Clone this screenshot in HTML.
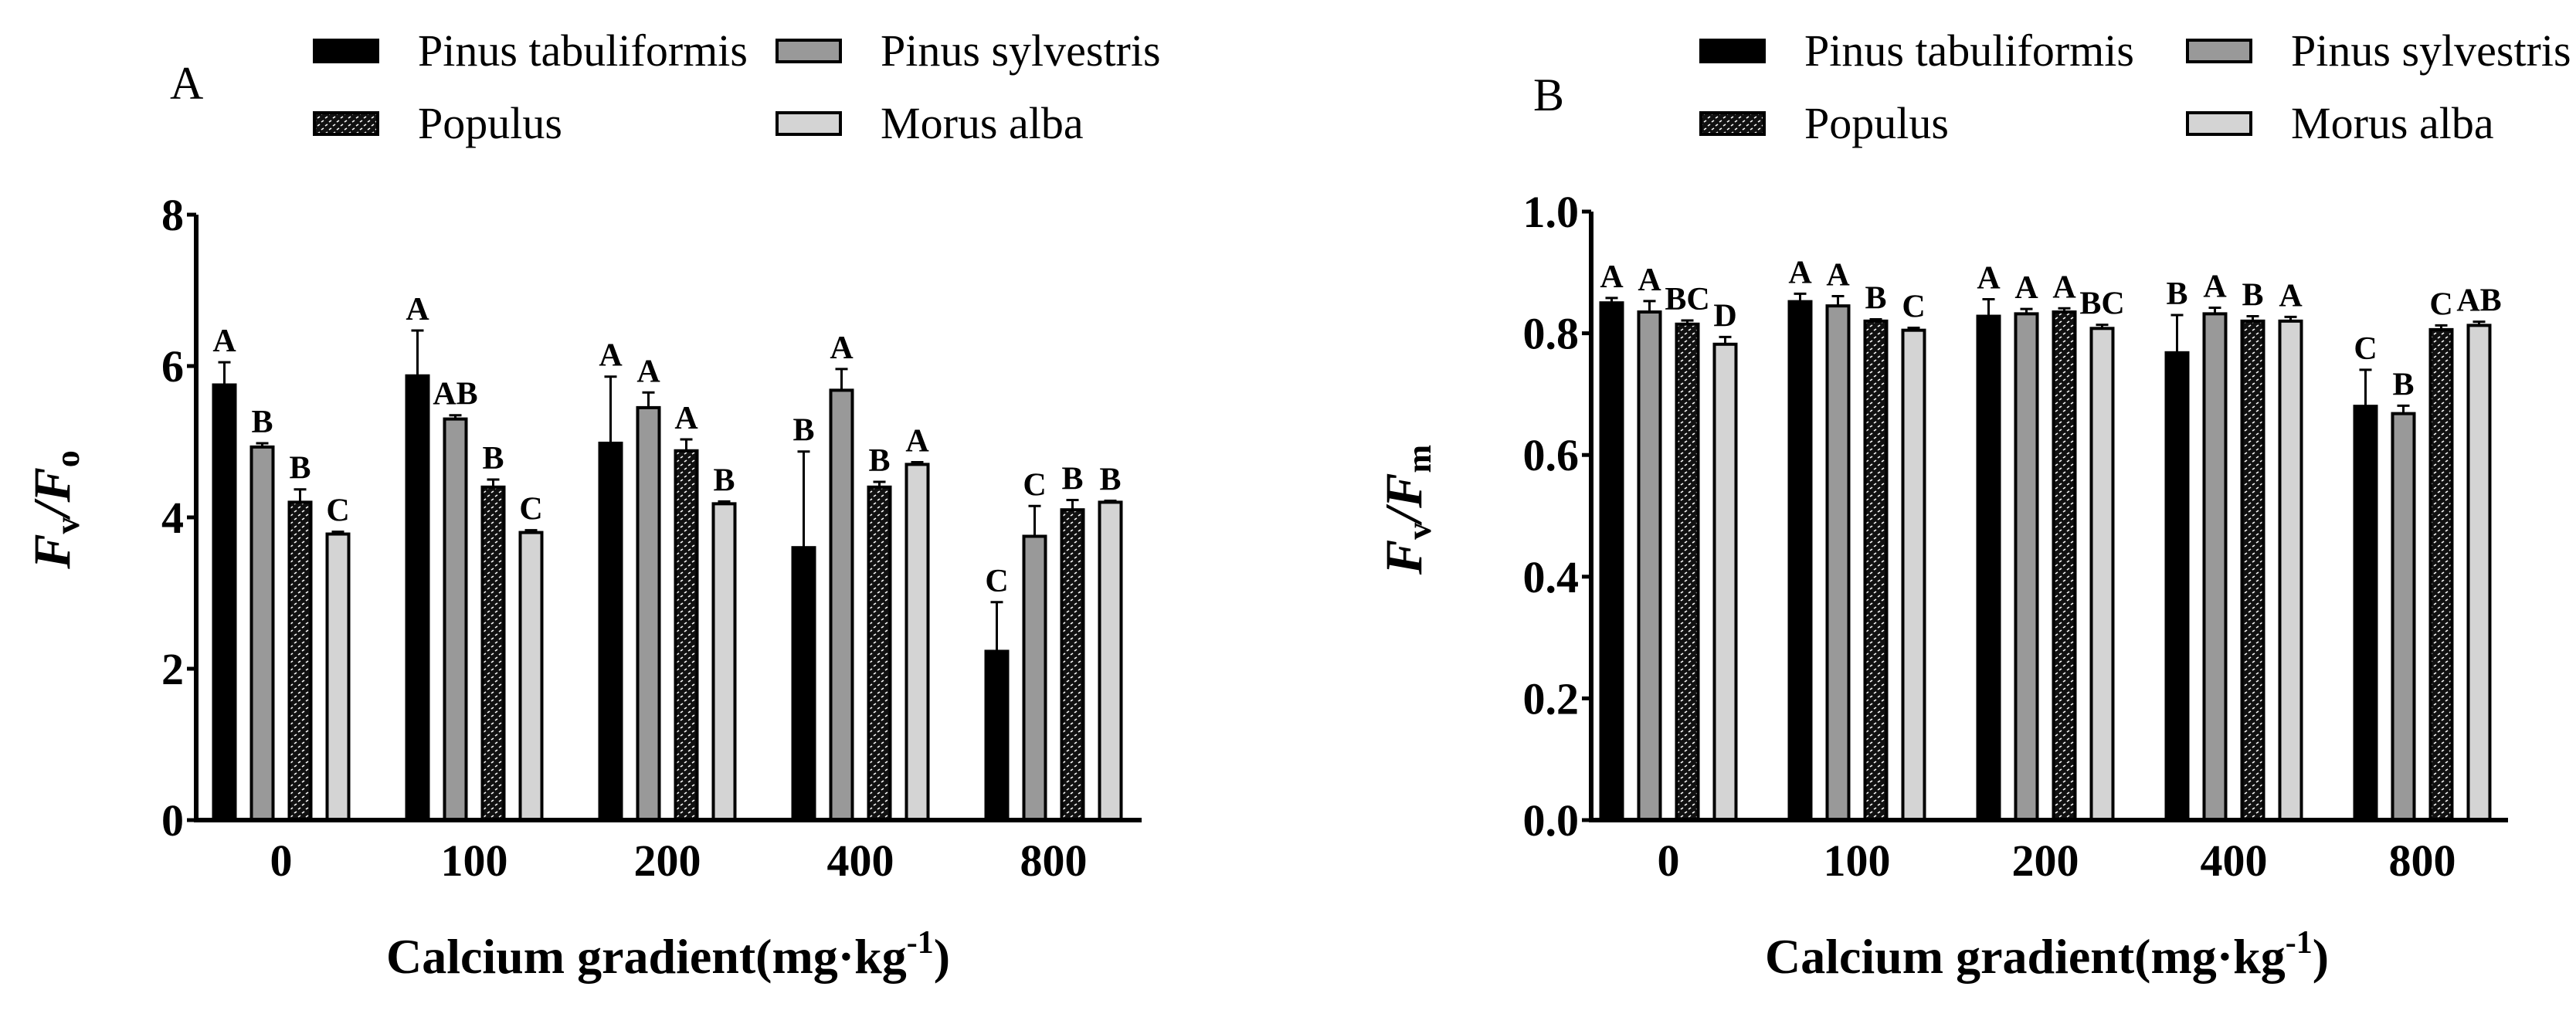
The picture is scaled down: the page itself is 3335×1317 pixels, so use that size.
<!DOCTYPE html>
<html><head><meta charset="utf-8"><style>
html,body{margin:0;padding:0;background:#fff;}
svg{display:block;font-family:"Liberation Serif","DejaVu Serif",serif;}
</style></head><body>
<svg id="chart" width="3335" height="1317" viewBox="0 0 3335 1317" xmlns="http://www.w3.org/2000/svg">
<defs>
<pattern id="dots" width="10" height="10" patternUnits="userSpaceOnUse">
<rect width="10" height="10" fill="#111"/>
<path d="M1 3 l3 -2 M6 8 l3 -2" stroke="#fff" stroke-width="1.6"/>
</pattern>
</defs>
<g id="root"></g>
</svg>
<script>
const categories = ["0","100","200","400","800"];
const seriesNames = ["Pinus tabuliformis","Pinus sylvestris","Populus","Morus alba"];
const fvfoValues = [[5.75,4.93,4.2,3.78],[5.87,5.3,4.4,3.8],[4.98,5.45,4.88,4.18],[3.6,5.68,4.4,4.7],[2.23,3.75,4.1,4.2]];
const fvfoErrors = [[0.3,0.05,0.17,0.03],[0.6,0.05,0.1,0.03],[0.88,0.2,0.15,0.03],[1.27,0.28,0.07,0.03],[0.65,0.4,0.13,0.02]];
const fvfoLetters = [["A","B","B","C"],["A","AB","B","C"],["A","A","A","B"],["B","A","B","A"],["C","C","B","B"]];
const fvfoTicks = [0,2,4,6,8];
const fvfmValues = [[0.85,0.835,0.815,0.782],[0.852,0.845,0.82,0.805],[0.828,0.832,0.835,0.808],[0.768,0.832,0.82,0.82],[0.68,0.668,0.806,0.813]];
const fvfmErrors = [[0.008,0.018,0.006,0.012],[0.013,0.016,0.003,0.004],[0.028,0.008,0.006,0.006],[0.062,0.01,0.008,0.007],[0.06,0.013,0.007,0.006]];
const fvfmLetters = [["A","A","BC","D"],["A","A","B","C"],["A","A","A","BC"],["B","A","B","A"],["C","B","C","AB"]];
const fvfmTicks = ["0.0","0.2","0.4","0.6","0.8","1.0"];

const NS="http://www.w3.org/2000/svg";
const root=document.getElementById('root');
const fills=["#000","#999","url(#dots)","#d4d4d4"];
function mk(tag,attrs,parent,text){const e=document.createElementNS(NS,tag);for(const k in attrs)e.setAttribute(k,attrs[k]);if(text!==undefined)e.textContent=text;(parent||root).appendChild(e);return e;}

function panel(cfg){
  const g=mk('g',{});
  
  
  const y=v=>cfg.y0-(v-cfg.vmin)/(cfg.vmax-cfg.vmin)*(cfg.y0-cfg.ytop);
  const pl=mk('text',{x:cfg.letterX,y:cfg.letterY,'font-size':60},g,cfg.letter);
  
  
  const lx=[cfg.legX0,cfg.legX1], ly=[66,160];
  seriesNames.forEach((n,i)=>{
    const col=i===0||i===2?0:1,row=i<2?0:1;
    const lg=mk('g',{},g);
    
    
    mk('rect',{x:lx[col],y:ly[row]-14,width:82,height:28,fill:fills[i],stroke:'#000','stroke-width':4},lg);
    mk('text',{x:lx[col]+134,y:ly[row]+19,'font-size':58},lg,n);
  });
  cfg.values.forEach((grp,gi)=>{
    const cx=cfg.cx0+gi*cfg.pitch;
    grp.forEach((v,si)=>{
      const bx=cx+(si-1.5)*49-16;
      const top=y(v);
      const b=mk('rect',{x:bx+2,y:top,width:28,height:cfg.y0-top,fill:fills[si],stroke:'#000','stroke-width':4},g);
      
      
      const et=y(v+cfg.errors[gi][si]);
      const eb=mk('path',{d:`M${bx+16} ${top} V${et} M${bx+8} ${et} H${bx+24}`,stroke:'#000','stroke-width':3,fill:'none'},g);
      
      
      const lt=mk('text',{x:bx+16,y:et-14,'font-size':42,'font-weight':'bold','text-anchor':'middle'},g,cfg.letters[gi][si]);
      
      
    });
    const xl=mk('text',{x:cx,y:1134,'font-size':58,'font-weight':'bold','text-anchor':'middle'},g,categories[gi]);
    
    
  });
  const ax=mk('path',{d:`M${cfg.ax} ${cfg.ytop} V${cfg.y0} H${cfg.axEnd}`,stroke:'#000','stroke-width':6,fill:'none'},g);
  
  
  cfg.ticks.forEach(t=>{
    const ty=y(parseFloat(t));
    mk('line',{x1:cfg.ax-12,x2:cfg.ax,y1:ty,y2:ty,stroke:'#000','stroke-width':5},g);
    const tl=mk('text',{x:cfg.ax-16,y:ty+20,'font-size':58,'font-weight':'bold','text-anchor':'end'},g,t);
    
    
  });
  const yt=mk('text',{transform:`translate(${cfg.ytX},${cfg.ytY}) rotate(-90)`,'font-size':68,'font-weight':'bold','font-style':'italic','text-anchor':'middle'},g);
  
  
  mk('tspan',{},yt,'F');
  mk('tspan',{'font-size':44,dy:12,'font-style':'normal'},yt,'v');
  mk('tspan',{dy:-12},yt,'/F');
  mk('tspan',{'font-size':44,dy:12,'font-style':'normal'},yt,cfg.sub);
  const xt=mk('text',{x:cfg.xtX,y:1260,'font-size':64,'font-weight':'bold','text-anchor':'middle'},g);
  
  
  mk('tspan',{},xt,'Calcium gradient(mg·kg');
  mk('tspan',{'font-size':42,dy:-26},xt,'-1');
  mk('tspan',{dy:26},xt,')');
}
panel({name:'panel-a-fvfo',letter:'A',letterX:220,letterY:128,legX0:407,legX1:1006,
  values:fvfoValues,errors:fvfoErrors,letters:fvfoLetters,ticks:fvfoTicks.map(String),vmin:0,vmax:8,
  y0:1062,ytop:278,ax:254,axEnd:1478,cx0:364,pitch:250,ytX:90,ytY:660,sub:'o',xtX:865});
panel({name:'panel-b-fvfm',letter:'B',letterX:1985,letterY:143,legX0:2202,legX1:2832,
  values:fvfmValues,errors:fvfmErrors,letters:fvfmLetters,ticks:fvfmTicks,vmin:0,vmax:1,
  y0:1062,ytop:274,ax:2060,axEnd:3247,cx0:2160,pitch:244,ytX:1840,ytY:660,sub:'m',xtX:2650});
</script>
</body></html>
